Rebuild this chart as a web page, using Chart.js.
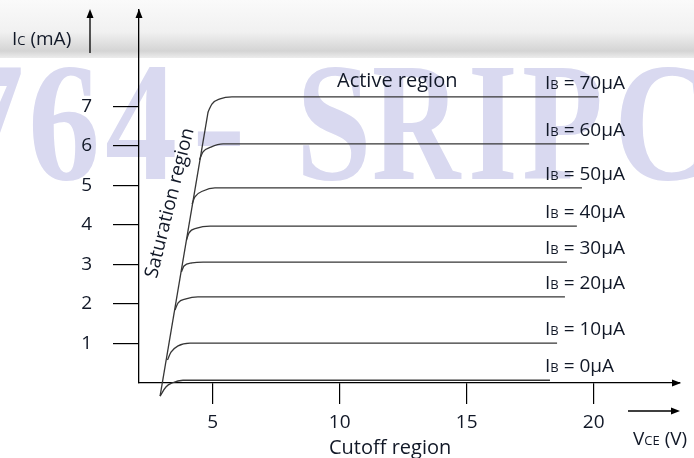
<!DOCTYPE html>
<html>
<head>
<meta charset="utf-8">
<script src="https://cdn.jsdelivr.net/npm/chart.js@4.4.0/dist/chart.umd.min.js"></script>
<style>
  html, body { margin: 0; padding: 0; background: #fff; }
</style>
</head>
<body>
<canvas id="bjtCurves" width="694" height="458"></canvas>
<script>
// base current of each curve, µA
const baseCurrents = [0, 10, 20, 30, 40, 50, 60, 70];

// VCE (V) points of each curve: knee start, knee, knee, plateau start, plateau end
const curveVce = [
  [2.93, 3.16, 3.40, 3.83, 18.28],
  [3.22, 3.36, 3.64, 4.11, 18.56],
  [3.52, 3.64, 3.95, 4.42, 18.87],
  [3.77, 3.87, 4.19, 4.62, 18.95],
  [3.97, 4.07, 4.38, 4.90, 19.34],
  [4.19, 4.30, 4.62, 5.09, 19.54],
  [4.48, 4.62, 4.93, 5.41, 19.82],
  [4.82, 4.97, 5.29, 5.76, 20.17]
];

// IC (mA) at those points
const curveIc = [
  [-0.33, -0.10, 0.00, 0.07, 0.07],
  [0.58, 0.78, 0.94, 1.01, 1.01],
  [1.85, 2.03, 2.13, 2.18, 2.18],
  [2.81, 2.96, 3.04, 3.06, 3.06],
  [3.62, 3.80, 3.92, 3.97, 3.97],
  [4.53, 4.71, 4.86, 4.94, 4.94],
  [5.65, 5.85, 5.97, 6.05, 6.05],
  [6.86, 7.06, 7.19, 7.24, 7.24]
];

// saturation boundary line
const satVce = [2.93, 4.82];
const satIc = [-0.33, 6.86];

const xTicks = [5, 10, 15, 20];
const yTicks = [1, 2, 3, 4, 5, 6, 7];

const FONT = '"Open Sans", sans-serif';
const TEXT = '#111827';
const LINE = '#363636';

// draws text made of pieces in different sizes (I + small B etc)
function mixedText(ctx, parts, x, y) {
  parts.forEach(p => {
    ctx.font = p[1] + 'px ' + FONT;
    ctx.fillText(p[0], x, y);
    x += ctx.measureText(p[0]).width;
  });
}

function arrowHead(ctx, x, y, dir) {
  ctx.beginPath();
  if (dir === 'up') {
    ctx.moveTo(x, y); ctx.lineTo(x - 3.5, y + 9); ctx.lineTo(x + 3.5, y + 9);
  } else {
    ctx.moveTo(x, y); ctx.lineTo(x - 9, y - 3.5); ctx.lineTo(x - 9, y + 3.5);
  }
  ctx.closePath();
  ctx.fill();
}

const decor = {
  id: 'decor',
  beforeDraw(chart) {
    const ctx = chart.ctx;
    ctx.save();
    // scanned header band
    const g = ctx.createLinearGradient(0, 0, 0, 58);
    g.addColorStop(0, '#fafafa');
    g.addColorStop(0.55, '#f1f1f1');
    g.addColorStop(0.88, '#d4d4d4');
    g.addColorStop(1, '#ececec');
    ctx.fillStyle = g;
    ctx.fillRect(0, 0, 694, 58);
    // watermark
    ctx.fillStyle = '#d9d9f0';
    ctx.font = 'bold 170px "Liberation Serif", serif';
    ctx.textBaseline = 'alphabetic';
    [['7', -48, 0.85], ['6', 28, 0.85], ['4', 105, 0.85], ['-', 192, 0.95],
     ['S', 296, 0.8], ['R', 372, 0.72], ['I', 468, 0.75], ['P', 522, 0.78], ['C', 614, 0.8]]
      .forEach(c => {
        ctx.save();
        ctx.translate(c[1], 179);
        ctx.scale(c[2], 1);
        ctx.fillText(c[0], 0, 0);
        ctx.restore();
      });
    ctx.restore();
  },
  afterDraw(chart) {
    const ctx = chart.ctx;
    const ys = chart.scales.y;
    const a = chart.chartArea;
    ctx.save();
    ctx.fillStyle = '#000';
    ctx.strokeStyle = '#000';
    ctx.lineWidth = 1.3;
    // axis arrow heads
    arrowHead(ctx, a.left, a.top - 1, 'up');
    arrowHead(ctx, a.right + 1, a.bottom, 'right');
    // Ic and VCE direction arrows
    ctx.beginPath();
    ctx.moveTo(90, 53); ctx.lineTo(90, 16);
    ctx.moveTo(628, 411); ctx.lineTo(672, 411);
    ctx.stroke();
    arrowHead(ctx, 90, 9, 'up');
    arrowHead(ctx, 680, 411, 'right');

    ctx.fillStyle = TEXT;
    ctx.textBaseline = 'alphabetic';
    ctx.textAlign = 'left';
    // curve labels, just above each plateau
    baseCurrents.forEach((ib, i) => {
      const py = ys.getPixelForValue(curveIc[i][4]);
      mixedText(ctx, [['I', 19], ['B', 13], [' = ' + ib + 'μA', 19]], 545, py - 8);
    });
    mixedText(ctx, [['Active region', 20]], 337, 87);
    mixedText(ctx, [['Cutoff region', 20]], 329, 454);
    mixedText(ctx, [['I', 19], ['C', 13], [' (mA)', 19]], 12, 45);
    mixedText(ctx, [['V', 19], ['CE', 13], [' (V)', 19]], 633, 445);

    ctx.translate(170, 203);
    ctx.rotate(-76 * Math.PI / 180);
    ctx.textAlign = 'center';
    ctx.textBaseline = 'middle';
    ctx.font = '19px ' + FONT;
    ctx.fillText('Saturation region', 0, 0);
    ctx.restore();
  }
};

const lineStyle = {
  borderColor: LINE,
  borderWidth: 1.3,
  pointRadius: 0,
  fill: false,
  clip: false
};

const datasets = baseCurrents.map((ib, i) => Object.assign({
  label: 'IB = ' + ib + 'μA',
  data: curveVce[i].map((v, j) => ({ x: v, y: curveIc[i][j] })),
  cubicInterpolationMode: 'monotone'
}, lineStyle));

datasets.push(Object.assign({
  label: 'Saturation region',
  data: satVce.map((v, j) => ({ x: v, y: satIc[j] }))
}, lineStyle));

new Chart(document.getElementById('bjtCurves'), {
  type: 'line',
  data: { datasets },
  options: {
    responsive: false,
    animation: false,
    devicePixelRatio: 1,
    layout: { padding: { top: 10, right: 14, left: 0, bottom: 0 } },
    plugins: {
      legend: { display: false },
      tooltip: { enabled: false }
    },
    scales: {
      x: {
        type: 'linear',
        min: 2.1,
        max: 23.4,
        afterBuildTicks: s => { s.ticks = xTicks.map(v => ({ value: v })); },
        afterFit: s => { s.height = 75; s.paddingLeft = 0; s.paddingRight = 0; },
        border: { display: true, color: '#000', width: 1.3 },
        grid: { drawOnChartArea: false, drawTicks: true, tickLength: 21, color: '#000', lineWidth: 1.2 },
        ticks: { color: TEXT, font: { family: FONT, size: 19 }, padding: 7, maxRotation: 0, autoSkip: false }
      },
      y: {
        type: 'linear',
        min: 0,
        max: 9.44,
        afterBuildTicks: s => { s.ticks = yTicks.map(v => ({ value: v })); },
        afterFit: s => { s.width = 139; s.paddingTop = 0; s.paddingBottom = 0; },
        border: { display: true, color: '#000', width: 1.3 },
        grid: { drawOnChartArea: false, drawTicks: true, tickLength: 26, color: '#000', lineWidth: 1.2 },
        ticks: { color: TEXT, font: { family: FONT, size: 19 }, padding: 21, autoSkip: false }
      }
    }
  },
  plugins: [decor]
});
</script>
</body>
</html>
